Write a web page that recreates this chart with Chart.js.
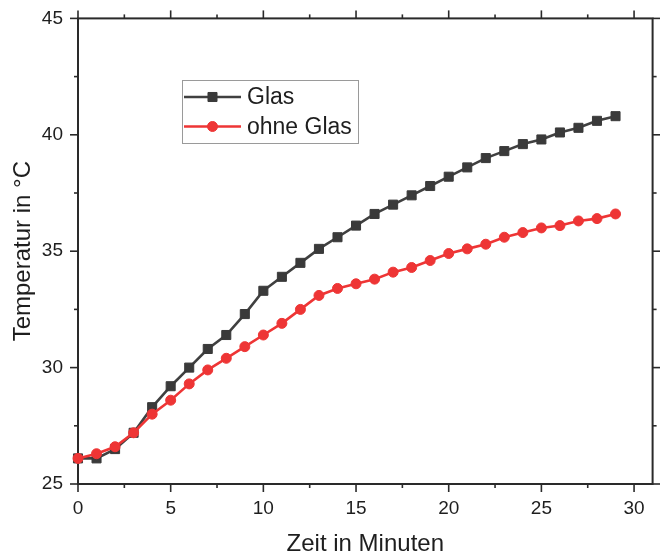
<!DOCTYPE html>
<html>
<head>
<meta charset="utf-8">
<title>Temperatur mit und ohne Glas</title>
<script src="https://cdn.jsdelivr.net/npm/chart.js@4.4.0/dist/chart.umd.min.js"></script>
<style>
  html, body { margin: 0; padding: 0; background: #ffffff; }
  #wrap { width: 660px; height: 559px; }
</style>
</head>
<body>
<div id="wrap"><canvas id="chart" width="660" height="559"></canvas></div>
<script>
// Measurement time in minutes
const minutes = [0, 1, 2, 3, 4, 5, 6, 7, 8, 9, 10, 11, 12, 13, 14, 15, 16, 17, 18, 19, 20, 21, 22, 23, 24, 25, 26, 27, 28, 29];

// Temperature (°C) with a glass cover
const glas = [26.1, 26.1, 26.5, 27.2, 28.3, 29.2, 30.0, 30.8, 31.4, 32.3, 33.3, 33.9, 34.5, 35.1, 35.6,
              36.1, 36.6, 37.0, 37.4, 37.8, 38.2, 38.6, 39.0, 39.3, 39.6, 39.8, 40.1, 40.3, 40.6, 40.8];

// Temperature (°C) without a glass cover
const ohneGlas = [26.1, 26.3, 26.6, 27.2, 28.0, 28.6, 29.3, 29.9, 30.4, 30.9, 31.4, 31.9, 32.5, 33.1, 33.4,
                  33.6, 33.8, 34.1, 34.3, 34.6, 34.9, 35.1, 35.3, 35.6, 35.8, 36.0, 36.1, 36.3, 36.4, 36.6];

const seriesNames = ['Glas', 'ohne Glas'];

// Axis ranges and labelled ticks
const xRange = [0, 31];
const yRange = [25, 45];
const xTickLabels = [0, 5, 10, 15, 20, 25, 30];
const yTickLabels = [25, 30, 35, 40, 45];
const minorStep = 2.5;

const FONT = "'Liberation Sans', Arial, Helvetica, sans-serif";
const INK = '#1e1e1e';
const GREY = '#404040';
const RED = '#ee3535';

const toPoints = (ys) => minutes.map((m, i) => ({ x: m, y: ys[i] }));

// Closed frame with outward major/minor ticks on all four sides
const frameTicks = {
  id: 'frameTicks',
  beforeDatasetsDraw(chart) {
    const { ctx, chartArea: a, scales: { x, y } } = chart;
    ctx.save();
    ctx.strokeStyle = '#2a2a2a';
    ctx.lineWidth = 2;
    ctx.strokeRect(a.left, a.top, a.right - a.left, a.bottom - a.top);
    ctx.lineWidth = 1.6;
    const seg = (x1, y1, x2, y2) => { ctx.beginPath(); ctx.moveTo(x1, y1); ctx.lineTo(x2, y2); ctx.stroke(); };
    for (let v = xRange[0]; v <= xRange[1] + 1e-9; v += minorStep) {
      const px = x.getPixelForValue(v);
      const len = xTickLabels.includes(v) ? 8 : 4;
      seg(px, a.bottom, px, a.bottom + len);
      seg(px, a.top, px, a.top - len);
    }
    for (let v = yRange[0]; v <= yRange[1] + 1e-9; v += minorStep) {
      const py = y.getPixelForValue(v);
      const len = yTickLabels.includes(v) ? 8 : 4;
      seg(a.left, py, a.left - len, py);
      seg(a.right, py, a.right + len, py);
    }
    ctx.restore();
  }
};

// Boxed legend inside the plot, each entry shows line + marker
const boxedLegend = {
  id: 'boxedLegend',
  afterDraw(chart, args, opts) {
    const { ctx } = chart;
    const { left, top, width, height, rowHeight, lineLen, gap } = opts;
    ctx.save();
    ctx.fillStyle = '#ffffff';
    ctx.fillRect(left, top, width, height);
    ctx.strokeStyle = '#9a9a9a';
    ctx.lineWidth = 1;
    ctx.strokeRect(left + 0.5, top + 0.5, width, height);
    ctx.font = `23px ${FONT}`;
    ctx.textBaseline = 'middle';
    ctx.textAlign = 'left';
    chart.data.datasets.forEach((ds, i) => {
      const cy = top + 17 + i * rowHeight;
      const x0 = left + 2;
      ctx.strokeStyle = ds.borderColor;
      ctx.lineWidth = ds.borderWidth;
      ctx.beginPath();
      ctx.moveTo(x0, cy);
      ctx.lineTo(x0 + lineLen, cy);
      ctx.stroke();
      ctx.fillStyle = ds.pointBackgroundColor;
      ctx.strokeStyle = ds.pointBorderColor;
      ctx.lineWidth = 1;
      Chart.helpers.drawPoint(ctx, {
        pointStyle: ds.pointStyle,
        radius: ds.pointRadius,
        borderWidth: 1
      }, x0 + lineLen / 2, cy);
      ctx.fillStyle = INK;
      ctx.fillText(ds.label, x0 + lineLen + gap, cy + 1);
    });
    ctx.restore();
  }
};

new Chart(document.getElementById('chart'), {
  type: 'line',
  data: {
    datasets: [
      {
        label: seriesNames[0],
        data: toPoints(glas),
        borderColor: GREY,
        backgroundColor: GREY,
        pointBackgroundColor: '#3a3a3a',
        pointBorderColor: '#3a3a3a',
        borderWidth: 2.6,
        pointStyle: 'rect',
        pointRadius: 6.4,
        pointBorderWidth: 1,
        tension: 0,
        clip: false,
        order: 1
      },
      {
        label: seriesNames[1],
        data: toPoints(ohneGlas),
        borderColor: RED,
        backgroundColor: RED,
        pointBackgroundColor: RED,
        pointBorderColor: RED,
        borderWidth: 2.6,
        pointStyle: 'circle',
        pointRadius: 5,
        pointBorderWidth: 1,
        tension: 0,
        clip: false,
        order: 0
      }
    ]
  },
  options: {
    responsive: false,
    animation: false,
    layout: { padding: { top: 17, right: 3, left: 0, bottom: 0 } },
    plugins: {
      legend: { display: false },
      tooltip: { enabled: false },
      boxedLegend: { left: 182, top: 80, width: 176, height: 63, rowHeight: 29.5, lineLen: 57, gap: 6 }
    },
    scales: {
      x: {
        type: 'linear',
        min: xRange[0],
        max: xRange[1],
        afterBuildTicks: (axis) => { axis.ticks = xTickLabels.map(v => ({ value: v })); },
        afterFit: (s) => { s.height = 75; },
        grid: { display: true, drawOnChartArea: false, drawTicks: true, tickLength: 8, color: 'rgba(0,0,0,0)' },
        border: { display: false },
        ticks: { color: INK, font: { family: FONT, size: 19 }, padding: 5, maxRotation: 0, autoSkip: false },
        title: { display: true, text: 'Zeit in Minuten', color: INK, font: { family: FONT, size: 24 }, padding: 0 }
      },
      y: {
        type: 'linear',
        min: yRange[0],
        max: yRange[1],
        afterBuildTicks: (axis) => { axis.ticks = yTickLabels.map(v => ({ value: v })); },
        afterFit: (s) => { s.width = 78; },
        grid: { display: true, drawOnChartArea: false, drawTicks: true, tickLength: 8, color: 'rgba(0,0,0,0)' },
        border: { display: false },
        ticks: { color: INK, font: { family: FONT, size: 19 }, padding: 7 },
        title: { display: true, text: 'Temperatur in °C', color: INK, font: { family: FONT, size: 24 }, padding: { top: 9, bottom: 0 } }
      }
    }
  },
  plugins: [frameTicks, boxedLegend]
});
</script>
</body>
</html>
